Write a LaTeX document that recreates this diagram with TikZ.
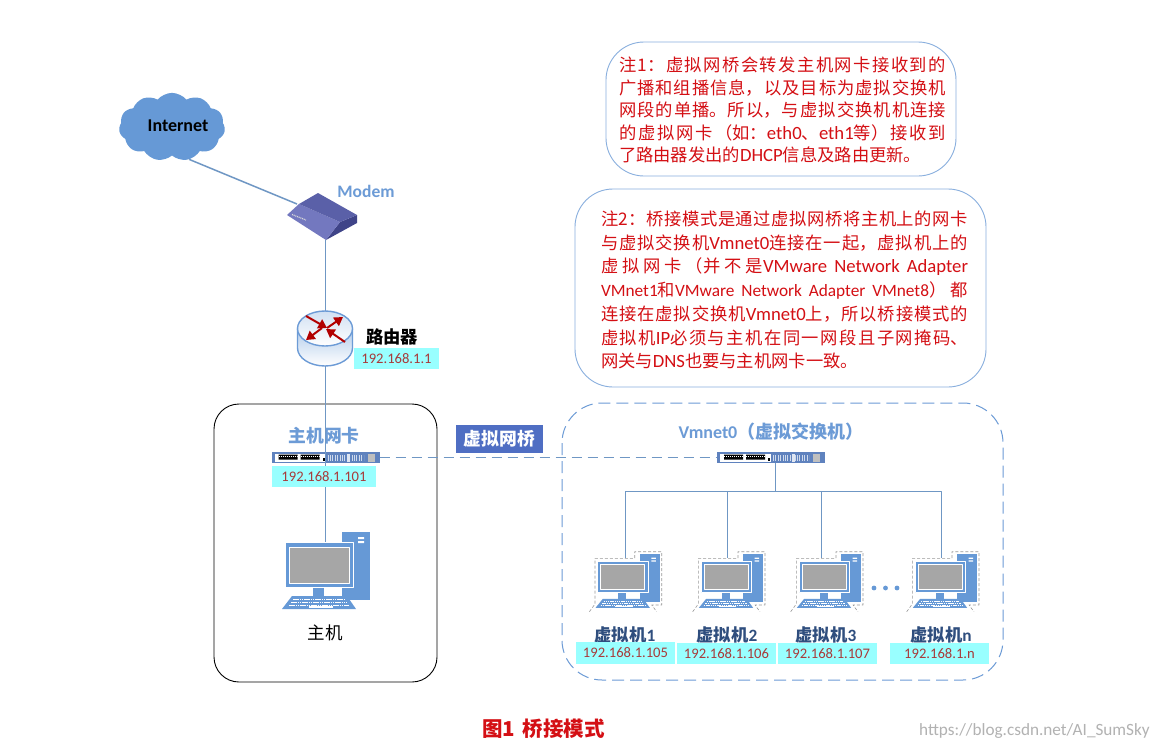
\documentclass[tikz,border=0pt]{standalone}
\usepackage{fontspec}
\usepackage{xcolor}
\usetikzlibrary{shapes.symbols,arrows.meta}
\setmainfont{Noto Sans CJK SC}
\newfontfamily\carlito{Carlito}
\newfontfamily\carlitobig[Scale=1.08]{Carlito}
\newcommand{\la}[1]{{\carlito #1}}
\newcommand{\lb}[1]{{\carlitobig #1}}
\XeTeXlinebreaklocale "zh"
\XeTeXlinebreakskip=0pt plus 3pt
\hyphenpenalty=10000
\definecolor{linkblue}{HTML}{6F97C4}
\definecolor{iconblue}{HTML}{6699D6}
\definecolor{textblue}{HTML}{6C9BD6}
\definecolor{notered}{HTML}{D40F14}
\definecolor{ipcyan}{HTML}{99FFFF}
\definecolor{ipred}{HTML}{A83A3A}
\definecolor{bridgeblue}{HTML}{4F6EC3}
\definecolor{swblue}{HTML}{5F82BE}
\definecolor{vmtext}{HTML}{2F4E7E}
\definecolor{modemtop}{HTML}{5A60A8}
\definecolor{modemfront}{HTML}{7378BF}
\definecolor{modemside}{HTML}{3F4488}
\tikzset{
pics/pcicon/.style={code={
\fill [iconblue] (57,-10) rectangle (85,58);
\fill [white] (73,-5) rectangle (79,-3) (73,-1) rectangle (79,1);
\fill [iconblue] (28,45) rectangle (39,54);
\fill [iconblue] (-3,67) -- (71,67) -- (62,54) -- (7,54) -- cycle;
\draw [white,dash pattern=on 1.5pt off .7pt] (8,57) -- (60,57) (6,60) -- (62,60) (4,63) -- (64,63);
\fill [white] (24,64) rectangle (48,65.5);
\draw [white,fill=iconblue,line width=.6pt] (0,0) rectangle (68.5,45);
\draw [white,fill=black!35,line width=.6pt] (4,5) rectangle (64,41);
}},
pics/vmicon/.style={code={
\pic [xscale=.735,yscale=.7] {pcicon};
\draw [black!40,densely dashed,line width=.6pt] (-8.3,50.7) -- (-2.7,43) -- (-2.7,-2.7) -- (37,-2.7) -- (37,-9.3) -- (64,-9.3) -- (64,44) -- (54,44) -- (59,50.7);
}},
pics/swicon/.style={code={
\fill [white] (-51,-4) rectangle (0,4);
\fill [black] (-47,-3) rectangle (-28,2) (-25,-3) rectangle (-6,2);
\draw [white,dash pattern=on 1pt off 1pt,line width=.5pt] (-47,-1.5) -- (-28,-1.5) (-25,-1.5) -- (-6,-1.5);
\fill [black] (-3,0) rectangle (-1,3);
\draw [white!70!swblue,dash pattern=on .8pt off 1.6pt,line width=6pt] (2,0) -- (38,0);
\fill [white!80!swblue] (21,-4) rectangle (24,4);
\fill [black!25] (42,-4) rectangle (49,4);
}}
}
\begin{document}
\begin{tikzpicture}[x=1pt,y=-1pt,line join=round]
\tikzstyle{every node}+=[inner sep=0pt]
\tikzstyle{link}=[linkblue,line width=1.5pt]
\tikzstyle{ipbox}=[fill=ipcyan,text=ipred,minimum height=21.5pt,font=\carlito\fontsize{14.6}{16}\selectfont]
\tikzstyle{vmlabel}=[text=vmtext,font=\bfseries\fontsize{17.3}{18}\selectfont]
\tikzstyle{notebox}=[draw=textblue!80!white,line width=.9pt,rounded corners=38pt]
\tikzstyle{notetext}=[text=notered,align=justify]
\tikzstyle{swbox}=[fill=swblue,minimum width=108pt,minimum height=11.5pt]
\useasboundingbox (0,0) rectangle (1156,747);
\fill [white] (0,0) rectangle (1156,747);
\node [notebox,minimum width=350pt,minimum height=134pt] (note1) at (781,109) {};
\node [notetext,text width=327pt,font=\fontsize{17.3}{22.5}\selectfont] (text1) at (782.5,110) {注1：虚拟网桥会转发主机网卡接收到的\linebreak
广播和组播信息，以及目标为虚拟交换机\linebreak
网段的单播。所以，与虚拟交换机机连接\linebreak
的虚拟网卡（如：\lb{eth0}、\lb{eth1}等）接收到\linebreak
了路由器发出的\lb{DHCP}信息及路由更新。};
\node [notebox,minimum width=411pt,minimum height=198pt] (note2) at (780.5,288) {};
\node [notetext,text width=367pt,font=\fontsize{17.3}{23.7}\selectfont] (text2) at (784.5,290) {注2：桥接模式是通过虚拟网桥将主机上的网卡\linebreak
与虚拟交换机\lb{Vmnet0}连接在一起，虚拟机上的\linebreak
虚拟网卡（并不是\lb{VMware Network Adapter}\linebreak
\la{VMnet1}和\la{VMware Network Adapter VMnet8}）都\linebreak
连接在虚拟交换机\lb{Vmnet0}上，所以桥接模式的\linebreak
虚拟机\lb{IP}必须与主机在同一网段且子网掩码、\linebreak
网关与\lb{DNS}也要与主机网卡一致。};
\node [cloud,cloud puffs=11,cloud puff arc=100,aspect=1.8,fill=iconblue,minimum width=104pt,minimum height=60pt,font=\carlito\bfseries\fontsize{18}{20}\selectfont] (inet) at (172,127) {\raisebox{2pt}{\hspace{12pt}Internet}};
\coordinate (modem) at (297,204);
\coordinate (modemout) at (325.5,240);
\fill [modemside] (357,215) -- (357,223) -- (326,240) -- (340,222) -- cycle;
\fill [modemfront] (287,215) -- (299,204) -- (340,222) -- (326,240) -- cycle;
\fill [modemtop] (299,204) -- (318,193) -- (357,215) -- (340,222) -- cycle;
\draw [white!70!gray,dash pattern=on 1pt off .8pt,line width=1.2pt] (292,214.5) -- (306,220);
\node [text=textblue,font=\carlito\bfseries\fontsize{17.5}{19}\selectfont] (modemlabel) at (366,191) {Modem};
\draw [link] (inet.-62) -- (modem);
\coordinate (routertop) at (325.5,311);
\coordinate (routerout) at (325.5,366);
\draw [link] (modemout) -- (routertop);
\draw [line width=1.4pt,draw=textblue,top color=iconblue!50!white,bottom color=white] (297.5,328.5) -- (297.5,348) arc (180:0:27.5 and 18) -- (352.5,328.5) -- cycle;
\draw [line width=1.4pt,draw=textblue,top color=iconblue!30!white,bottom color=white] (325,328.5) ellipse (27.5 and 17.5);
\draw [Triangle-,red!70!black,line width=2pt] (327,328) -- (306,316);
\draw [-Triangle,red!70!black,line width=2pt] (327,328) -- (343,317);
\draw [-Triangle,red!70!black,line width=2pt] (322,328) -- (306,340);
\draw [-Triangle,red!70!black,line width=2pt] (345,342) -- (326,329);
\node [font=\bfseries\fontsize{17.3}{18}\selectfont] (routerlabel) at (392,337) {路由器};
\node [ipbox,minimum width=85pt] (routerip) at (396.5,358.5) {192.168.1.1};
\draw [black,line width=.9pt,rounded corners=25pt] (214,404) rectangle (437,682);
\draw [textblue,dashed,dash pattern=on 12pt off 6pt,line width=1pt,rounded corners=40pt] (562,403) rectangle (1003,680);
\node [text=textblue,font=\bfseries\fontsize{17.8}{20}\selectfont] (niclabel) at (324,436) {主机网卡};
\node [fill=bridgeblue,text=white,minimum width=87pt,minimum height=28pt,font=\bfseries\fontsize{17.8}{20}\selectfont] (bridge) at (499.5,439) {虚拟网桥};
\node [text=textblue,font=\bfseries\fontsize{18}{20}\selectfont] (vswlabel) at (771,432) {\la{Vmnet0}（虚拟交换机）};
\node [swbox] (nic) at (325.5,457.5) {};
\node [swbox] (vsw) at (771,457.5) {};
\pic at (nic) {swicon};
\pic at (vsw) {swicon};
\coordinate (pctop) at (325.5,542);
\draw [link] (routerout) -- (nic.center);
\draw [link] (nic.center) -- (pctop);
\draw [link,dashed,dash pattern=on 10pt off 6pt] (nic.east) -- (vsw.west);
\node [ipbox,minimum width=104pt] (nicip) at (324,476.5) {192.168.1.101};
\pic at (285,542) {pcicon};
\node [font=\fontsize{17.5}{19}\selectfont] (pclabel) at (325,633) {主机};
\coordinate (bus) at (775.5,491.5);
\coordinate (vm1) at (625.5,558);
\coordinate (vm2) at (727.5,558);
\coordinate (vm3) at (821.5,558);
\coordinate (vm4) at (941.5,558);
\draw [link] (vsw.south -| bus) -- (bus);
\draw [link] (bus) -| (vm1);
\draw [link] (bus) -| (vm2);
\draw [link] (bus) -| (vm3);
\draw [link] (bus) -| (vm4);
\pic at (597.7,561) {vmicon};
\pic at (701,561) {vmicon};
\pic at (799,561) {vmicon};
\pic at (915,561) {vmicon};
\fill [iconblue] (874,588) circle (2.4) (885.5,588) circle (2.4) (897,588) circle (2.4);
\node [vmlabel] (vm1label) at (625,635) {虚拟机\la{1}};
\node [vmlabel] (vm2label) at (727,635) {虚拟机\la{2}};
\node [vmlabel] (vm3label) at (826,635) {虚拟机\la{3}};
\node [vmlabel] (vm4label) at (941,635) {虚拟机\la{n}};
\node [ipbox,minimum width=99pt] (vm1ip) at (625.5,653) {192.168.1.105};
\node [ipbox,minimum width=99pt] (vm2ip) at (726.5,653.5) {192.168.1.106};
\node [ipbox,minimum width=99pt] (vm3ip) at (827.5,653.5) {192.168.1.107};
\node [ipbox,minimum width=99pt] (vm4ip) at (939.5,653.5) {192.168.1.n};
\node [text=notered,font=\bfseries\fontsize{20.5}{22}\selectfont] (title) at (543.5,729) {图1\hspace{8pt}桥接模式};
\node [text=black!30,anchor=east,font=\carlito\fontsize{17.2}{19}\selectfont] (mark) at (1150,731) {https://blog.csdn.net/AI\_SumSky};
\end{tikzpicture}
\end{document}
